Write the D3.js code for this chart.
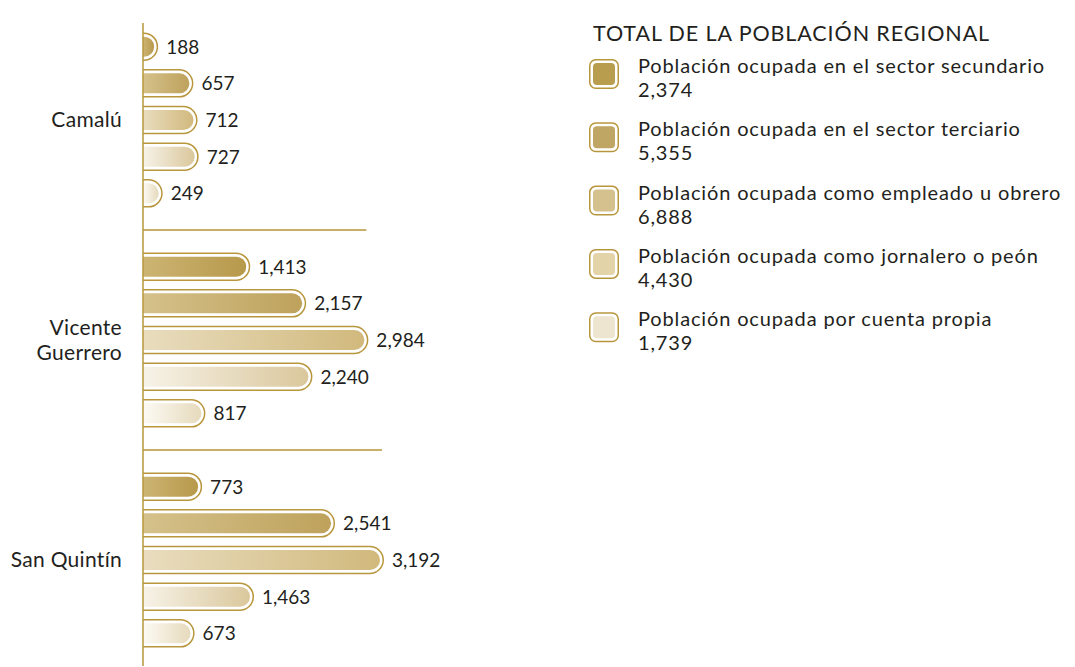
<!DOCTYPE html>
<html>
<head>
<meta charset="utf-8">
<script src="https://d3js.org/d3.v7.min.js"></script>
<style>
  body { margin: 0; background: #fff; }
  text { font-family: "Lato", "Open Sans", sans-serif; fill: #231f20; }
</style>
</head>
<body>
<script>
// data
var localidades = ["Camalú", "Vicente Guerrero", "San Quintín"];
var series = [
  "Población ocupada en el sector secundario",
  "Población ocupada en el sector terciario",
  "Población ocupada como empleado u obrero",
  "Población ocupada como jornalero o peón",
  "Población ocupada por cuenta propia"
];
var totales = [2374, 5355, 6888, 4430, 1739];
var camalu = [188, 657, 712, 727, 249];
var vicente = [1413, 2157, 2984, 2240, 817];
var sanQuintin = [773, 2541, 3192, 1463, 673];
var legendTitle = "TOTAL DE LA POBLACIÓN REGIONAL";

// colours per series
var gradStart = ["#ccb473", "#d5c18b", "#e9ddbf", "#f7f3e8", "#fcfaf4"];
var gradEnd = ["#b7994b", "#bea25c", "#d1b97d", "#dac79c", "#e6dabc"];
var swatch = ["#b89d4f", "#c0a665", "#d5c18d", "#e2d3a8", "#ede5cf"];
var gold = "#b8963c";

// dimensions chart
var width = 1075;
var height = 667;
var axisX = 143;
var barH = 27;

var values = [camalu, vicente, sanQuintin];

var svg = d3.select("body")
  .append("svg")
  .attr("width", width)
  .attr("height", height);

var defs = svg.append("defs");
series.forEach(function(s, i) {
  var g = defs.append("linearGradient")
    .attr("id", "grad" + i)
    .attr("x1", "0%").attr("x2", "100%")
    .attr("y1", "0%").attr("y2", "0%");
  g.append("stop").attr("offset", "0%").attr("stop-color", gradStart[i]);
  g.append("stop").attr("offset", "100%").attr("stop-color", gradEnd[i]);
});

// scales
var xScale = d3.scaleLinear()
  .domain([0, 3192])
  .range([axisX + 1, 384]);

var yGroup = d3.scaleBand()
  .domain(localidades)
  .range([10, 670]);

var yBar = d3.scaleBand()
  .domain(d3.range(series.length))
  .range([0, yGroup.bandwidth()])
  .paddingOuter(0.5);

// pill shape, flat on the left, round on the right
function pill(x0, x1, yc, h) {
  var r = h / 2;
  var xr = Math.max(x0, x1 - r);
  return "M" + x0 + "," + (yc - r) + "L" + xr + "," + (yc - r) +
    "A" + r + "," + r + " 0 0 1 " + xr + "," + (yc + r) + "L" + x0 + "," + (yc + r);
}

// flat list of bars
var bars = [];
localidades.forEach(function(loc, gi) {
  values[gi].forEach(function(v, si) {
    bars.push({loc: loc, serie: si, value: v});
  });
});

function barY(d) {
  return yGroup(d.loc) + yBar(d.serie) + yBar.bandwidth() / 2;
}

// separator lines between the groups
svg.selectAll(".sep")
  .data(localidades.slice(1))
  .enter()
  .append("line")
  .attr("class", "sep")
  .attr("x1", axisX)
  .attr("x2", function(d) { return xScale(d3.max(values[localidades.indexOf(d)])) - 2; })
  .attr("y1", function(d) { return yGroup(d); })
  .attr("y2", function(d) { return yGroup(d); })
  .attr("stroke", "#c9b06a")
  .attr("stroke-width", 2);

var barG = svg.selectAll(".bar")
  .data(bars)
  .enter()
  .append("g")
  .attr("class", "bar");

// outline
barG.append("path")
  .attr("d", function(d) { return pill(axisX, xScale(d.value) - 0.75, barY(d), barH); })
  .attr("fill", "#fff")
  .attr("stroke", gold)
  .attr("stroke-width", 1.5);

// inner fill
barG.append("path")
  .attr("d", function(d) { return pill(axisX, xScale(d.value) - 4, barY(d), barH - 7); })
  .attr("fill", function(d) { return "url(#grad" + d.serie + ")"; });

// value labels
barG.append("text")
  .attr("x", function(d) { return xScale(d.value) + 8; })
  .attr("y", function(d) { return barY(d) + 7; })
  .attr("font-size", 19)
  .text(function(d) { return d3.format(",")(d.value); });

// vertical axis line
svg.append("line")
  .attr("x1", axisX).attr("x2", axisX)
  .attr("y1", yGroup.range()[0] + 13)
  .attr("y2", yGroup.range()[1] - 4)
  .attr("stroke", gold)
  .attr("stroke-width", 1.5);

// category labels, split in words when long
svg.selectAll(".cat")
  .data(localidades)
  .enter()
  .append("text")
  .attr("class", "cat")
  .attr("text-anchor", "end")
  .attr("font-size", 21)
  .attr("letter-spacing", 0.3)
  .attr("y", function(d) { return yGroup(d) + yGroup.bandwidth() / 2 + 7; })
  .each(function(d) {
    var lines = d === "Vicente Guerrero" ? d.split(" ") : [d];
    var t = d3.select(this);
    lines.forEach(function(l, i) {
      t.append("tspan")
        .attr("x", 122)
        .attr("dy", i === 0 ? (-(lines.length - 1) * 12.5) : 25)
        .text(l);
    });
  });

// legend
svg.append("text")
  .attr("x", 593)
  .attr("y", 41)
  .attr("font-size", 21.5)
  .attr("letter-spacing", 0.9)
  .text(legendTitle);

var legend = svg.selectAll(".legend")
  .data(series)
  .enter()
  .append("g")
  .attr("class", "legend")
  .attr("transform", function(d, i) { return "translate(589," + (74 + i * 63.3) + ")"; });

legend.append("rect")
  .attr("x", 0.75).attr("y", -14.25)
  .attr("width", 28.5).attr("height", 28.5)
  .attr("rx", 6)
  .attr("fill", "#fff")
  .attr("stroke", gold)
  .attr("stroke-width", 1.5);

legend.append("rect")
  .attr("x", 4).attr("y", -11)
  .attr("width", 22).attr("height", 22)
  .attr("rx", 4)
  .attr("fill", function(d, i) { return swatch[i]; });

legend.append("text")
  .attr("x", 49)
  .attr("y", -1)
  .attr("font-size", 20)
  .attr("letter-spacing", 0.85)
  .text(function(d) { return d; });

legend.append("text")
  .attr("x", 49)
  .attr("y", 23)
  .attr("font-size", 20)
  .attr("letter-spacing", 0.85)
  .text(function(d, i) { return d3.format(",")(totales[i]); });
</script>
</body>
</html>
